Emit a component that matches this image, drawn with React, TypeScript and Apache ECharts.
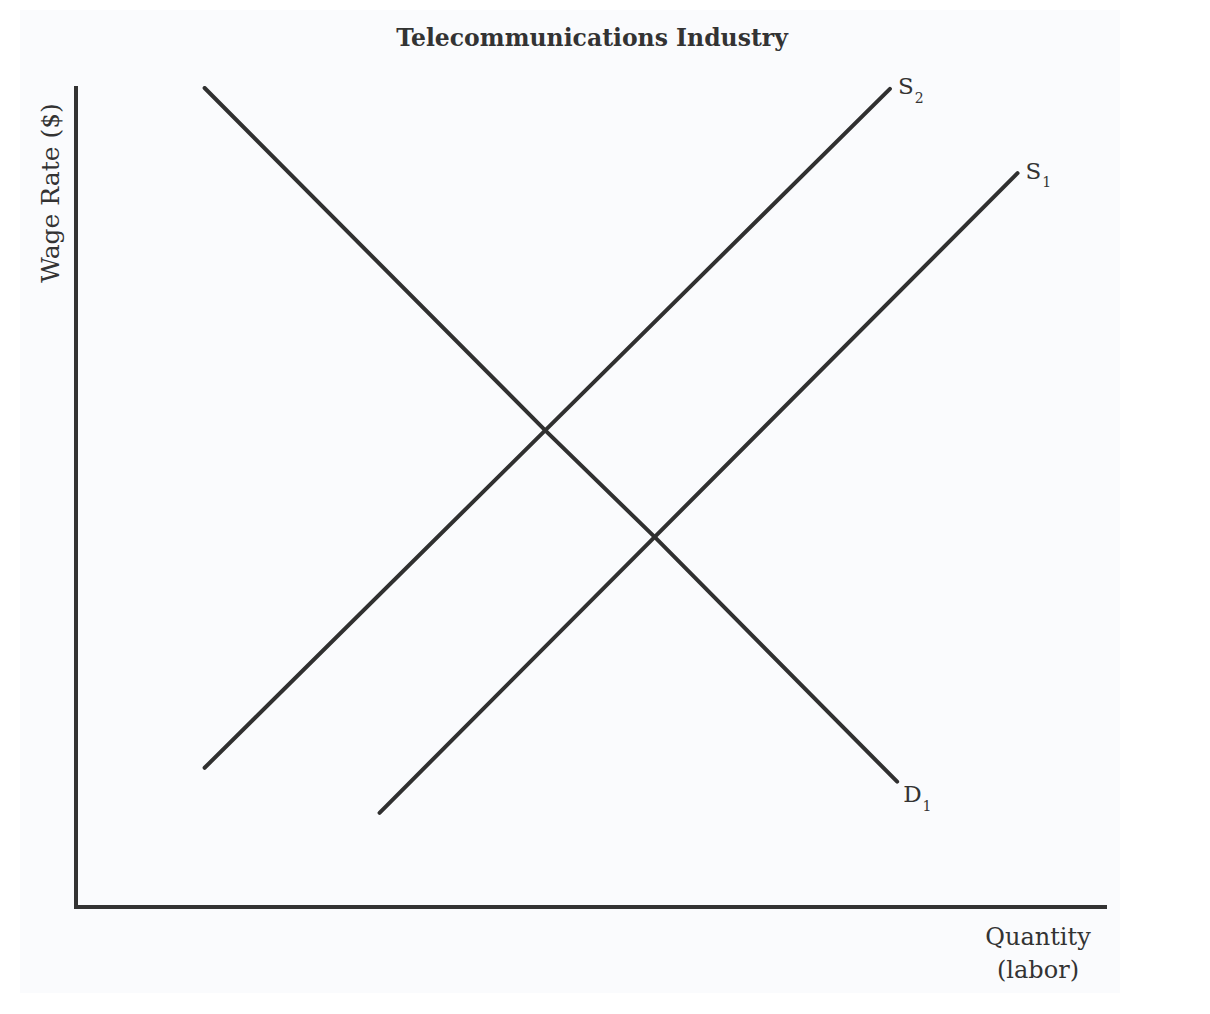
import React, { useEffect, useRef } from "react";
import * as echarts from "echarts";

const titleText = "Telecommunications Industry";
const yAxisName = "Wage Rate ($)";
const xAxisName = "Quantity\n(labor)";

// Curve points in abstract units (x: 0–100 quantity, y: 0–100 wage)
const demandD1: [number, number][] = [
  [12.5, 100],
  [45.6, 58.2],
  [56.3, 45.1],
  [79.8, 15.3],
];
const supplyS2: [number, number][] = [
  [12.5, 17.0],
  [79.1, 99.9],
];
const supplyS1: [number, number][] = [
  [29.5, 11.5],
  [91.5, 89.6],
];

const seriesNames = ["D", "S", "S"];
const seriesSubs = ["1", "2", "1"];

const FONT = "'DejaVu Serif', 'Liberation Serif', serif";
const INK = "#333333";

export default function App() {
  const ref = useRef<HTMLDivElement>(null);

  useEffect(() => {
    if (!ref.current) return;
    const chart = echarts.init(ref.current, null, { renderer: "svg" });

    const rich = {
      m: { fontFamily: FONT, fontSize: 23, color: INK, lineHeight: 26, verticalAlign: "top" },
      s: {
        fontFamily: FONT,
        fontSize: 14,
        color: INK,
        verticalAlign: "middle",
        lineHeight: 46,
        padding: [0, 0, 0, 1],
      },
    };

    const mkSeries = (data: [number, number][], idx: number, offset: [number, number]) => ({
      type: "line",
      data,
      showSymbol: false,
      symbol: "none",
      smooth: false,
      lineStyle: { color: "#303030", width: 4, cap: "round", join: "round" },
      endLabel: {
        show: true,
        formatter: `{m|${seriesNames[idx]}}{s|${seriesSubs[idx]}}`,
        rich,
        offset,
        align: "left",
        verticalAlign: "middle",
        distance: 0,
      },
      silent: true,
      z: 3,
    });

    chart.setOption({
      animation: false,
      backgroundColor: "#ffffff",
      title: {
        text: titleText,
        left: 587,
        textAlign: "center",
        top: 21,
        textStyle: { fontFamily: FONT, fontSize: 23.5, fontWeight: "bold", color: INK },
      },
      graphic: [
        {
          type: "rect",
          z: -10,
          shape: { x: 20, y: 10, width: 1100, height: 983 },
          style: { fill: "#fafbfd" },
          silent: true,
        },
        {
          type: "text",
          x: 50,
          y: 193,
          rotation: Math.PI / 2,
          style: {
            text: yAxisName,
            fontFamily: FONT,
            fontSize: 25,
            fill: INK,
            align: "center",
            verticalAlign: "middle",
          },
        },
        {
          type: "text",
          x: 1038,
          y: 953,
          style: {
            text: xAxisName,
            fontFamily: FONT,
            fontSize: 24,
            lineHeight: 33,
            fill: INK,
            align: "center",
            verticalAlign: "middle",
          },
        },
      ],
      grid: { left: 76, right: 105, top: 88, bottom: 107, containLabel: false },
      xAxis: {
        type: "value",
        min: 0,
        max: 100,
        axisLine: { show: true, lineStyle: { color: "#333", width: 4, cap: "square" } },
        axisTick: { show: false },
        axisLabel: { show: false },
        splitLine: { show: false },
      },
      yAxis: {
        type: "value",
        min: 0,
        max: 100,
        axisLine: { show: true, onZero: false, lineStyle: { color: "#333", width: 4, cap: "square" } },
        axisTick: { show: false },
        axisLabel: { show: false },
        splitLine: { show: false },
      },
      series: [
        mkSeries(demandD1, 0, [6, 24]),
        mkSeries(supplyS2, 1, [8, 9]),
        mkSeries(supplyS1, 2, [8, 9]),
      ],
    });

    return () => chart.dispose();
  }, []);

  return (
    <div
      ref={ref}
      style={{ position: "fixed", left: 0, top: 0, width: 1210, height: 1014 }}
    />
  );
}
